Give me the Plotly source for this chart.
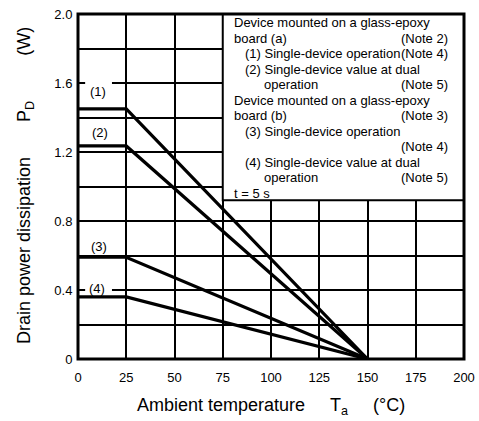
import plotly.graph_objects as go

# ---- data ----
x_pts = [0, 25, 150]
series_names = ["(1)", "(2)", "(3)", "(4)"]
series_vals = [
    [1.45, 1.45, 0.0],
    [1.235, 1.235, 0.0],
    [0.59, 0.59, 0.0],
    [0.36, 0.36, 0.0],
]
label_x = [10.6, 11.4, 10.9, 10.1]
label_y = [1.548, 1.313, 0.655, 0.406]

x_ticks = [0, 25, 50, 75, 100, 125, 150, 175, 200]
x_ticktext = ["0", "25", "50", "75", "100", "125", "150", "175", "200"]
y_ticks = [0, 0.4, 0.8, 1.2, 1.6, 2.0]
y_ticktext = ["0", "0.4", "0.8", "1.2", "1.6", "2.0"]
y_minor = [0.2, 0.6, 1.0, 1.4, 1.8]

note_lines = [
    ("Device mounted on a glass-epoxy", 0, ""),
    ("board (a)", 0, "(Note 2)"),
    ("(1) Single-device operation", 1, "(Note 4)"),
    ("(2) Single-device value at dual", 1, ""),
    ("operation", 2, "(Note 5)"),
    ("Device mounted on a glass-epoxy", 0, ""),
    ("board (b)", 0, "(Note 3)"),
    ("(3) Single-device operation", 1, ""),
    ("", 0, "(Note 4)"),
    ("(4) Single-device value at dual", 1, ""),
    ("operation", 2, "(Note 5)"),
    ("t = 5 s", 0, ""),
]

W, H = 479, 421
L, R, T, B = 78, 15, 14, 62
PW, PH = W - L - R, H - T - B


def px(xp):
    return (xp - L) / PW


def py(yp):
    return (T + PH - yp) / PH


FONT = "Liberation Sans, Arial, sans-serif"

fig = go.Figure()
for name, vals in zip(series_names, series_vals):
    fig.add_trace(go.Scatter(x=x_pts, y=vals, mode="lines", name=name,
                             line=dict(color="black", width=3.2),
                             showlegend=False, hoverinfo="skip"))

annotations = []
for name, lx, ly in zip(series_names, label_x, label_y):
    annotations.append(dict(x=lx, y=ly, xref="x", yref="y", text=name,
                            showarrow=False, font=dict(size=13, color="black")))

# note box texts
indents = [232, 243, 262]
for i, (txt, ind, note) in enumerate(note_lines):
    yc = 23 + i * 15.5
    if txt:
        annotations.append(dict(x=px(indents[ind]), y=py(yc), xref="paper", yref="paper",
                                text=txt, showarrow=False, xanchor="left", yanchor="middle",
                                font=dict(size=13, color="black")))
    if note:
        annotations.append(dict(x=px(450), y=py(yc), xref="paper", yref="paper",
                                text=note, showarrow=False, xanchor="right", yanchor="middle",
                                font=dict(size=13, color="black")))

sp = "\u00a0"
annotations.append(dict(x=0.5, y=py(406), xref="paper", yref="paper",
                        text="Ambient temperature" + sp * 5 + "T<sub>a</sub>" + sp * 5 + "(°C)",
                        showarrow=False, xanchor="center", yanchor="middle",
                        font=dict(size=18, color="black")))
annotations.append(dict(x=px(25), y=py(186), xref="paper", yref="paper", textangle=-90,
                        text="Drain power dissipation" + sp * 7 + "P<sub>D</sub>" + sp * 9 + "(W)",
                        showarrow=False, xanchor="center", yanchor="middle",
                        font=dict(size=18, color="black")))

shapes = [
    # note box
    dict(type="rect", xref="x", yref="y", x0=75, x1=200, y0=0.92, y1=2.0,
         fillcolor="white", line=dict(color="black", width=2), layer="above"),
    # gaps in gridlines behind curve labels
    dict(type="rect", xref="x", yref="y", x0=3.7, x1=17.6, y0=1.585, y1=1.615,
         fillcolor="white", line=dict(width=0), layer="above"),
    dict(type="rect", xref="x", yref="y", x0=3.7, x1=17.6, y0=0.385, y1=0.415,
         fillcolor="white", line=dict(width=0), layer="above"),
    # outer frame
    dict(type="rect", xref="paper", yref="paper", x0=0, x1=1, y0=0, y1=1,
         fillcolor="rgba(0,0,0,0)", line=dict(color="black", width=3), layer="above"),
]

fig.update_layout(
    width=W, height=H,
    margin=dict(l=L, r=R, t=T, b=B, pad=0, autoexpand=False),
    paper_bgcolor="white", plot_bgcolor="white",
    font=dict(family=FONT, color="black", size=13),
    annotations=annotations, shapes=shapes,
)
fig.update_xaxes(range=[0, 200], tickvals=x_ticks, ticktext=x_ticktext,
                 showgrid=True, gridcolor="black", gridwidth=1.6,
                 ticks="outside", ticklen=6, tickcolor="rgba(0,0,0,0)",
                 zeroline=False, showline=False, tickfont=dict(size=13),
                 automargin=False)
fig.update_yaxes(range=[0, 2.0], tickvals=y_ticks, ticktext=y_ticktext,
                 showgrid=True, gridcolor="black", gridwidth=1.6,
                 minor=dict(tickvals=y_minor, showgrid=True, gridcolor="black",
                            gridwidth=1.6, ticks=""),
                 ticks="outside", ticklen=2, tickcolor="rgba(0,0,0,0)",
                 zeroline=False, showline=False, tickfont=dict(size=13),
                 automargin=False)

fig.write_html("out.html")
